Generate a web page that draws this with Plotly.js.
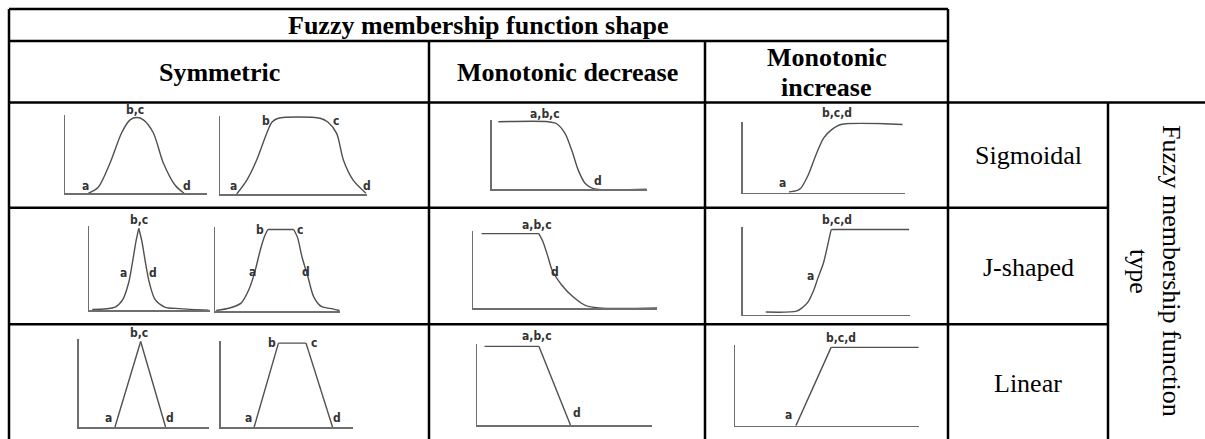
<!DOCTYPE html>
<html><head><meta charset="utf-8">
<script src="https://cdn.plot.ly/plotly-3.0.1.min.js"></script>
<style>html,body{margin:0;padding:0;background:#fff}#chart{width:1205px;height:439px}</style>
</head><body><div id="chart"></div>
<script>
// ---------------- DATA ----------------
const tableTitle = "Fuzzy membership function shape";
const columnHeaders = ["Symmetric", "Monotonic decrease", "Monotonic", "increase"];
const rowLabels = ["Sigmoidal", "J-shaped", "Linear"];
const sideTitle = ["Fuzzy membership function", "type"];

// Sigmoidal row (x in 0-10 units, y = membership degree)
const sigBellX = [1.64, 2.35, 3.18, 4.0, 4.59, 5.06, 5.53, 6.23, 6.94, 7.76, 8.4];
const sigBellY = [0, 0.08, 0.4, 0.8, 0.97, 1, 0.97, 0.8, 0.4, 0.11, 0];
const sigTrapX = [1.14, 1.82, 2.5, 3.18, 3.55, 3.97, 6.82, 7.35, 7.95, 8.41, 9.09, 9.95];
const sigTrapY = [0, 0.18, 0.45, 0.8, 0.95, 1, 1, 0.95, 0.8, 0.45, 0.18, 0.01];
const sigDecX = [0.43, 3.65, 4.19, 4.72, 5.16, 5.59, 6.02, 6.56, 10];
const sigDecY = [1, 1, 0.97, 0.83, 0.58, 0.28, 0.09, 0.01, 0];
const sigIncX = [2.86, 3.33, 3.57, 4.05, 4.52, 5.0, 5.48, 6.07, 9.88];
const sigIncY = [0.01, 0.03, 0.06, 0.26, 0.55, 0.8, 0.92, 1, 1];

// J-shaped row
const jBellX = [0.25, 2.15, 2.78, 3.26, 3.57, 3.89, 4.11, 4.36, 4.68, 5.0, 5.47, 6.26, 7.53, 9.9];
const jBellY = [0.01, 0.04, 0.13, 0.33, 0.57, 0.85, 1, 0.85, 0.57, 0.33, 0.13, 0.04, 0.02, 0];
const jTrapX = [0.1, 1.17, 2.08, 2.69, 3.14, 3.6, 3.91, 4.21, 6.28, 6.59, 6.95, 7.42, 7.87, 8.48, 9.4, 9.94];
const jTrapY = [0.01, 0.04, 0.1, 0.26, 0.46, 0.74, 0.9, 1, 1, 0.9, 0.66, 0.42, 0.18, 0.06, 0.03, 0.01];
const jDecX = [0.46, 3.57, 3.78, 4.08, 4.29, 4.81, 5.43, 6.06, 6.84, 10];
const jDecY = [1, 1, 0.9, 0.68, 0.51, 0.31, 0.15, 0.04, 0, 0];
const jIncX = [1.38, 3.22, 3.56, 3.91, 4.25, 4.48, 4.83, 5.05, 5.24, 5.29, 9.95];
const jIncY = [0.03, 0.04, 0.08, 0.15, 0.29, 0.42, 0.61, 0.79, 0.96, 1, 1];

// Linear row
const linTriX = [2.77, 4.74, 6.65];
const linTriY = [0, 1, 0];
const linTrapX = [2.53, 4.37, 6.46, 8.47];
const linTrapY = [0, 1, 1, 0];
const linDecX = [0.43, 3.53, 5.33];
const linDecY = [1, 1, 0];
const linIncX = [3.31, 5.23, 10];
const linIncY = [0, 1, 1];

// point labels (text, x, y in the panel's own units)
const sigBellLab = {t: ["a", "b,c", "d"], x: [1.48, 4.94, 8.59], y: [0.09, 1.1, 0.1]};
const sigTrapLab = {t: ["a", "b", "c", "d"], x: [0.95, 3.12, 7.91, 10.04], y: [0.1, 0.96, 0.96, 0.1]};
const sigDecLab = {t: ["a,b,c", "d"], x: [3.44, 6.88], y: [1.12, 0.12]};
const sigIncLab = {t: ["b,c,d", "a"], x: [5.83, 2.49], y: [1.17, 0.14]};
const jBellLab = {t: ["b,c", "a", "d"], x: [4.11, 2.84, 5.32], y: [1.1, 0.45, 0.45]};
const jTrapLab = {t: ["b", "c", "a", "d"], x: [3.59, 6.78, 3.03, 7.26], y: [0.99, 0.99, 0.48, 0.48]};
const jDecLab = {t: ["a,b,c", "d"], x: [3.47, 4.44], y: [1.11, 0.49]};
const jIncLab = {t: ["b,c,d", "a"], x: [5.64, 4.08], y: [1.11, 0.45]};
const linTriLab = {t: ["b,c", "a", "d"], x: [4.6, 2.24, 6.99], y: [1.1, 0.1, 0.1]};
const linTrapLab = {t: ["b", "c", "a", "d"], x: [3.85, 7.04, 2.08, 8.83], y: [1.0, 1.0, 0.11, 0.11]};
const linDecLab = {t: ["a,b,c", "d"], x: [3.42, 5.7], y: [1.13, 0.15]};
const linIncLab = {t: ["b,c,d", "a"], x: [5.76, 2.93], y: [1.12, 0.14]};

// ---------------- LAYOUT ----------------
const W = 1205, H = 439;
const px = v => v / W, py = v => 1 - v / H;
const YMAX = 1.03;

// box: [left, right, bottom, top] in pixels; breaks: indices of sharp corners
const panels = [
  {x: sigBellX, y: sigBellY, lab: sigBellLab, box: [65, 206.7, 193.3, 115.3], breaks: []},
  {x: sigTrapX, y: sigTrapY, lab: sigTrapLab, box: [220, 366.7, 194, 116], breaks: []},
  {x: sigDecX, y: sigDecY, lab: sigDecLab, box: [491.7, 646.7, 189.3, 119.7], breaks: []},
  {x: sigIncX, y: sigIncY, lab: sigIncLab, box: [742.7, 904.5, 192.7, 122.4], breaks: []},
  {x: jBellX, y: jBellY, lab: jBellLab, box: [89.2, 209.8, 310.3, 226], breaks: [6]},
  {x: jTrapX, y: jTrapY, lab: jTrapLab, box: [215, 340.3, 311.3, 227], breaks: [7, 8]},
  {x: jDecX, y: jDecY, lab: jDecLab, box: [473, 657.3, 308, 231.4], breaks: [1]},
  {x: jIncX, y: jIncY, lab: jIncLab, box: [742.7, 910, 314.6, 227], breaks: [9]},
  {x: linTriX, y: linTriY, lab: linTriLab, box: [78.8, 209.3, 427, 339], breaks: [1]},
  {x: linTrapX, y: linTrapY, lab: linTrapLab, box: [220.8, 352.7, 427, 340.6], breaks: [1, 2]},
  {x: linDecX, y: linDecY, lab: linDecLab, box: [477, 652.3, 425, 344], breaks: [1]},
  {x: linIncX, y: linIncY, lab: linIncLab, box: [735, 918.8, 425.8, 345], breaks: [1]}
];

const traces = [];
const layout = {
  width: W, height: H, margin: {l: 0, r: 0, t: 0, b: 0},
  paper_bgcolor: '#ffffff', plot_bgcolor: 'rgba(0,0,0,0)',
  showlegend: false, shapes: [], annotations: []
};
const labFont = {family: 'Liberation Sans Narrow, DejaVu Sans Condensed, Liberation Sans, sans-serif', size: 12, color: '#333'};

panels.forEach((p, i) => {
  const n = i + 1, sfx = n === 1 ? '' : String(n);
  const xa = 'x' + sfx, ya = 'y' + sfx;
  // split at sharp corners so each smooth piece is a spline
  const cuts = [0].concat(p.breaks, [p.x.length - 1]);
  for (let s = 0; s < cuts.length - 1; s++) {
    traces.push({
      type: 'scatter', mode: 'lines',
      x: p.x.slice(cuts[s], cuts[s + 1] + 1), y: p.y.slice(cuts[s], cuts[s + 1] + 1),
      xaxis: xa, yaxis: ya,
      line: {color: '#505050', width: 1.4, shape: 'spline', smoothing: 0.8}, hoverinfo: 'skip'
    });
  }
  const base = {showgrid: false, zeroline: false, showticklabels: false, ticks: '',
    showline: true, linecolor: '#6e6e6e', linewidth: 1.5, fixedrange: true};
  layout['xaxis' + sfx] = Object.assign({}, base, {domain: [px(p.box[0]), px(p.box[1])], range: [0, 10], anchor: ya});
  layout['yaxis' + sfx] = Object.assign({}, base, {domain: [py(p.box[2]), py(p.box[3])], range: [0, YMAX], anchor: xa});
  p.lab.t.forEach((t, k) => {
    const lx = p.box[0] + p.lab.x[k] / 10 * (p.box[1] - p.box[0]);
    const ly = p.box[2] - p.lab.y[k] / YMAX * (p.box[2] - p.box[3]);
    layout.annotations.push({
      xref: 'paper', yref: 'paper', x: px(lx), y: py(ly), text: '<b>' + t + '</b>',
      showarrow: false, font: labFont, xanchor: 'center', yanchor: 'middle'
    });
  });
});

// table grid lines (pixel positions)
const gridLines = [
  [9, 9, 948, 9], [9, 41, 948, 41], [9, 102.5, 1205, 102.5],
  [9, 207.7, 1108, 207.7], [9, 324.3, 1108, 324.3],
  [9, 9, 9, 439], [429, 41, 429, 439], [705, 41, 705, 439],
  [948, 9, 948, 439], [1108, 102.5, 1108, 439]
];
gridLines.forEach(g => layout.shapes.push({
  type: 'line', xref: 'paper', yref: 'paper',
  x0: px(g[0]), y0: py(g[1]), x1: px(g[2]), y1: py(g[3]),
  line: {color: '#000', width: 2.5}
}));

const serif = 'Liberation Serif, Times New Roman, serif';
function txt(text, x, y, bold, angle) {
  layout.annotations.push({
    xref: 'paper', yref: 'paper', x: px(x), y: py(y),
    text: bold ? '<b>' + text + '</b>' : text, showarrow: false,
    xanchor: 'center', yanchor: 'middle', textangle: angle || 0,
    font: {family: serif, size: 26, color: '#000'}
  });
}
txt(tableTitle, 478, 25, true);
txt(columnHeaders[0], 219, 72, true);
txt(columnHeaders[1], 567, 72, true);
txt(columnHeaders[2], 826.5, 58, true);
txt(columnHeaders[3], 826.5, 87, true);
txt(rowLabels[0], 1028, 155, false);
txt(rowLabels[1], 1028, 267, false);
txt(rowLabels[2], 1028, 383, false);
txt(sideTitle[0], 1172, 271, false, 90);
txt(sideTitle[1], 1139, 271, false, 90);

Plotly.newPlot('chart', traces, layout, {staticPlot: true, displayModeBar: false});
</script></body></html>
